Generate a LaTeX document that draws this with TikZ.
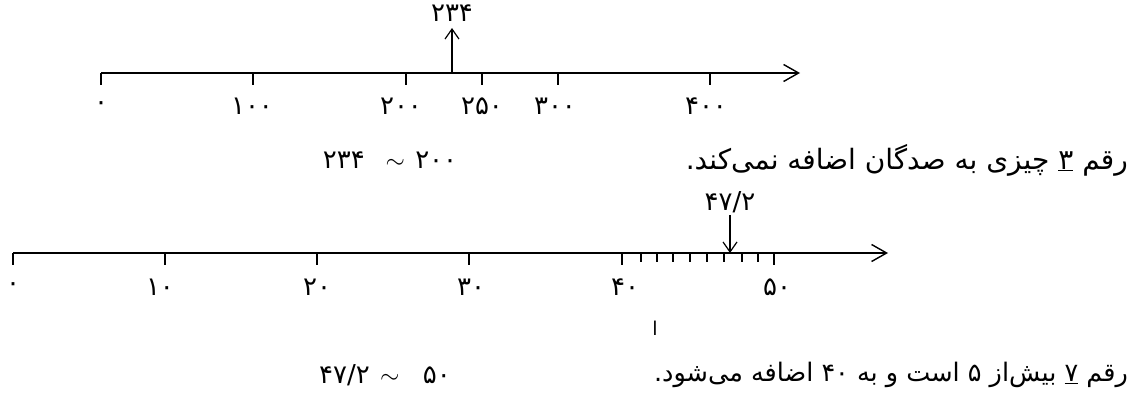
\documentclass[tikz,border=0pt]{standalone}
\usepackage{fontspec}
\usetikzlibrary{arrows.meta}
\newfontfamily\fa[Script=Arabic]{DejaVu Sans}
\TeXXeTstate=1
\newcommand\tld{{\fontsize{24}{26}\selectfont$\sim$}}
\tikzset{
  axisline/.style={line width=1.6pt,-{Straight Barb[length=15pt,width=17pt,line width=1.4pt]}},
  tickmark/.style={line width=1.6pt},
  ptr/.style={line width=1.2pt,-{Straight Barb[length=10pt,width=14pt,line width=1.2pt]}},
  num/.style={font=\fa\fontsize{26}{30}\selectfont,inner sep=0pt},
  sentA/.style={font=\fa\fontsize{28}{32}\selectfont,inner sep=0pt},
  sentB/.style={font=\fa\fontsize{25.5}{30}\selectfont,inner sep=0pt},
  smallmark/.style={font=\fa\fontsize{19}{22}\selectfont,inner sep=0pt},
}
\begin{document}
\begin{tikzpicture}[x=1pt,y=-1pt]
\useasboundingbox (0,0) rectangle (1139,395);
% ---------- first number line ----------
\coordinate (A0) at (101,73);
\coordinate (Aend) at (800,73);
\draw[axisline] (A0) -- (Aend);
\foreach \x/\n in {101/a0,253/a100,406/a200,482/a250,558/a300,710/a400}{
  \coordinate (\n) at (\x,73);
  \draw[tickmark] (\n) -- ++(0,12);
}
\node[num] (la0)   at (101,106) {۰};
\node[num] (la100) at (252,106) {۱۰۰};
\node[num] (la200) at (401,106) {۲۰۰};
\node[num] (la250) at (482,106) {۲۵۰};
\node[num] (la300) at (555,106) {۳۰۰};
\node[num] (la400) at (706,106) {۴۰۰};
\coordinate (p234) at (452,73);
\coordinate (t234) at (452,28);
\node[num] (l234) at (452,13) {۲۳۴};
\draw[ptr] (p234) -- (t234);
\node[num] (approx1) at (390,160) {\beginR\beginL ۲۰۰\endL\hspace{0.4em}\tld\hspace{0.8em}\beginL ۲۳۴\endL\endR};
\node[sentA,anchor=east] (s1) at (1128,160) {\beginR رقم \underline{۳} چیزی به صدگان اضافه نمی‌کند.\endR};
% ---------- second number line ----------
\coordinate (B0) at (13,253);
\coordinate (Bend) at (888,253);
\draw[axisline] (B0) -- (Bend);
\foreach \x/\n in {13/b0,165/b10,317/b20,469/b30,622/b40,774/b50}{
  \coordinate (\n) at (\x,253);
  \draw[tickmark] (\n) -- ++(0,12);
}
\foreach \x in {641,657,673,690,707,724,742,758}{
  \draw[tickmark] (\x,253) -- ++(0,9);
}
\node[num] (lb0)  at (13,287)  {۰};
\node[num] (lb10) at (160,287) {۱۰};
\node[num] (lb20) at (317,287) {۲۰};
\node[num] (lb30) at (471,287) {۳۰};
\node[num] (lb40) at (625,287) {۴۰};
\node[num] (lb50) at (777,287) {۵۰};
\coordinate (p472) at (730,253);
\coordinate (s472) at (730,215);
\node[num] (l472) at (730,202) {۴۷/۲};
\draw[ptr] (s472) -- (p472);
\node[smallmark] (mark) at (655,328) {ا};
\node[num] (approx2) at (385,375) {\beginR\beginL ۵۰\endL\hspace{0.9em}\tld\hspace{0.4em}\beginL ۴۷/۲\endL\endR};
\node[sentB,anchor=east] (s2) at (1128,375) {\beginR رقم \underline{۷} بیش‌از ۵ است و به \beginL ۴۰\endL{} اضافه می‌شود.\endR};
\end{tikzpicture}
\end{document}
